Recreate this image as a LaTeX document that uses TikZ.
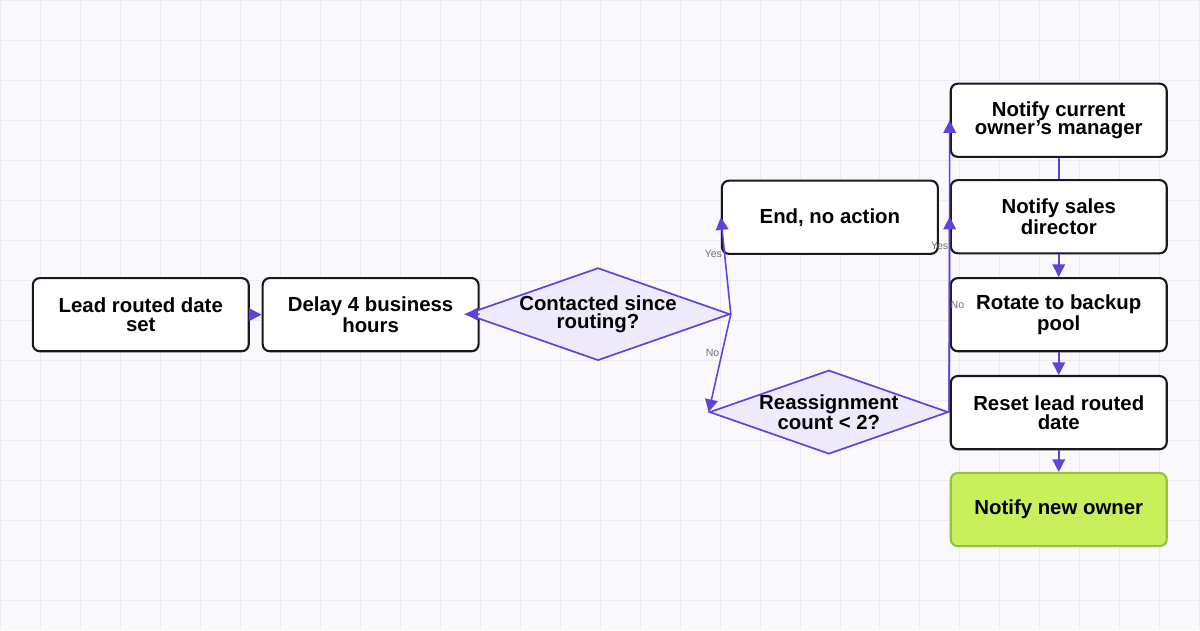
\documentclass[tikz,border=0pt]{standalone}
\usepackage{fontspec}
\setmainfont{Liberation Sans}
\usetikzlibrary{shapes.geometric,arrows.meta}
\definecolor{flow}{HTML}{5B45D8}
\definecolor{gridc}{HTML}{ECEAF6}
\definecolor{bgc}{HTML}{F9F8FD}
\definecolor{dfill}{HTML}{EEEAFB}
\definecolor{gfill}{HTML}{C8F05A}
\definecolor{gline}{HTML}{94C23A}
\definecolor{lbl}{HTML}{707070}
\tikzset{
	task/.style={draw=black!90, line width=1.5pt, rounded corners=5pt, fill=white, minimum width=5.4cm, minimum height=1.83cm, align=center, font=\bfseries\fontsize{14.5}{13}\selectfont, inner sep=1pt},
	check/.style={diamond, aspect=2.85, draw=flow, line width=1.2pt, fill=dfill, minimum width=5.7cm, minimum height=2cm, inner sep=0pt, align=center, font=\bfseries\fontsize{14.5}{13}\selectfont},
	link/.style={flow, line width=1.1pt, -{Triangle[length=9pt,width=9pt]}},
	tag/.style={font=\fontsize{7.5}{8}\selectfont, text=lbl}
}
\begin{document}
\begin{tikzpicture}[x=0.025cm, y=-0.025cm]
		%background and grid
		\fill[bgc] (0,0) rectangle (1200,630);
		\foreach \g in {0,40,...,1200}{
			\draw[gridc, line width=0.5pt] (\g,0)--(\g,630);
		}
		\foreach \g in {0,40,...,630}{
			\draw[gridc, line width=0.5pt] (0,\g)--(1200,\g);
		}
		\useasboundingbox (0,0) rectangle (1200,630);
		
		\node[task] (lead) at (140.5,314.5) {Lead routed date\\set};
		\node[task] (delay) at (370.5,314.5) {Delay 4 business\\hours};
		\node[check] (contacted) at (598,314) {Contacted since\\routing?};
		\node[task] (endnode) at (830,217) {End, no action};
		\node[check] (reassign) at (829,412) {Reassignment\\count < 2?};
		\node[task] (manager) at (1059,120) {Notify current\\owner's manager};
		\node[task] (director) at (1059,216.5) {Notify sales\\director};
		\node[task] (rotate) at (1059,314.5) {Rotate to backup\\pool};
		\node[task] (reset) at (1059,412.5) {Reset lead routed\\date};
		\node[task, fill=gfill, draw=gline] (owner) at (1059,509.5) {Notify new owner};
		
		\draw[link] (lead) -- (delay);
		\draw[link] (delay) -- (contacted.west);
		\draw[link] (contacted.east) -- node[tag, pos=0.62, left=-2pt] {Yes} (endnode.west);
		\draw[link] (contacted.east) -- node[tag, pos=0.4, left=-2pt] {No} (reassign.west);
		\draw[link] (reassign.east) -- node[tag, pos=0.57, left=-3pt] {Yes} (manager.west);
		\draw[link] (reassign.east) -- node[tag, pos=0.55, right=-3pt] {No} (director.west);
		\draw[flow, line width=1.1pt] (manager) -- (director);
		\draw[link] (director) -- (rotate);
		\draw[link] (rotate) -- (reset);
		\draw[link] (reset) -- (owner);
		\end{tikzpicture}
\end{document}
